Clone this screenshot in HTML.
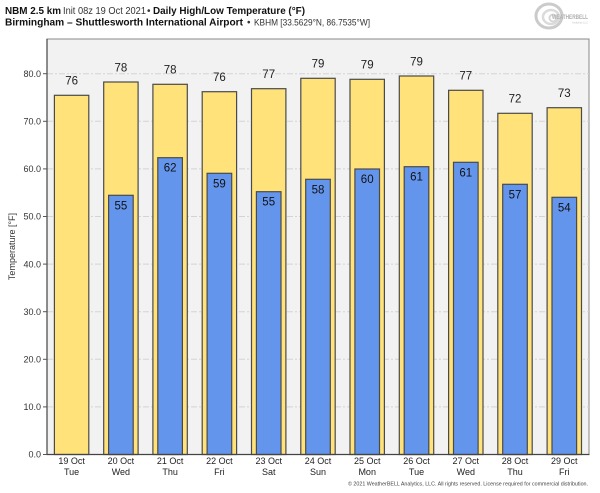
<!DOCTYPE html>
<html><head><meta charset="utf-8"><style>
html,body{margin:0;padding:0;background:#fff;}
svg{display:block;}
text{font-family:"Liberation Sans","DejaVu Sans",sans-serif;}
</style></head><body>
<svg width="600" height="493" viewBox="0 0 600 493" xmlns="http://www.w3.org/2000/svg">
<rect width="600" height="493" fill="#fff"/>
<!-- Title -->
<text x="5" y="14" font-size="10" font-weight="bold" fill="#111" textLength="56" lengthAdjust="spacingAndGlyphs">NBM 2.5 km</text>
<text x="63" y="14" font-size="10" fill="#333" textLength="83" lengthAdjust="spacingAndGlyphs">Init 08z 19 Oct 2021</text>
<text x="147" y="14" font-size="10" fill="#333">•</text>
<text x="153" y="14" font-size="10" font-weight="bold" fill="#111" textLength="152" lengthAdjust="spacingAndGlyphs">Daily High/Low Temperature (°F)</text>
<text x="5" y="25.7" font-size="10" font-weight="bold" fill="#111" textLength="238" lengthAdjust="spacingAndGlyphs">Birmingham – Shuttlesworth International Airport</text>
<text x="247" y="25.7" font-size="10" fill="#333">•</text>
<text x="254" y="25.7" font-size="9.5" fill="#333" textLength="116" lengthAdjust="spacingAndGlyphs">KBHM [33.5629°N, 86.7535°W]</text>
<!-- Logo -->
<g opacity="0.6">
<ellipse cx="549" cy="16" rx="13" ry="12" fill="none" stroke="#aaa" stroke-width="3"/>
<ellipse cx="551" cy="17" rx="8" ry="7" fill="none" stroke="#c4c4c4" stroke-width="2.5"/>
<ellipse cx="553" cy="18" rx="3.5" ry="3.5" fill="none" stroke="#bbb" stroke-width="2"/>
<text x="552" y="19" font-size="6.5" font-weight="bold" fill="#777" font-family="Liberation Serif,serif" textLength="36" lengthAdjust="spacingAndGlyphs">WEATHERBELL</text>
<text x="572" y="23.5" font-size="2.5" fill="#999" textLength="16" lengthAdjust="spacingAndGlyphs">Analytics LLC</text>
</g>
<!-- Plot area -->
<rect x="47" y="39" width="542" height="415.5" fill="#f2f2f2" stroke="#888" stroke-width="1"/>
<g stroke="#d4d4d4" stroke-width="1" stroke-dasharray="6,2,2,2">
<line x1="47" x2="589" y1="406.9" y2="406.9"/>
<line x1="47" x2="589" y1="359.3" y2="359.3"/>
<line x1="47" x2="589" y1="311.7" y2="311.7"/>
<line x1="47" x2="589" y1="264.1" y2="264.1"/>
<line x1="47" x2="589" y1="216.5" y2="216.5"/>
<line x1="47" x2="589" y1="168.9" y2="168.9"/>
<line x1="47" x2="589" y1="121.3" y2="121.3"/>
<line x1="47" x2="589" y1="73.7" y2="73.7"/>
</g>
<!-- Bars -->
<g stroke="#4a4a4a" stroke-width="1.2">
<rect x="54.4" y="95.3" width="34.4" height="359.2" fill="#ffe27a"/>
<rect x="103.7" y="82" width="34.4" height="372.5" fill="#ffe27a"/>
<rect x="152.9" y="84.3" width="34.4" height="370.2" fill="#ffe27a"/>
<rect x="202.2" y="91.7" width="34.4" height="362.8" fill="#ffe27a"/>
<rect x="251.5" y="88.7" width="34.4" height="365.8" fill="#ffe27a"/>
<rect x="300.8" y="78.3" width="34.4" height="376.2" fill="#ffe27a"/>
<rect x="350.0" y="79.3" width="34.4" height="375.2" fill="#ffe27a"/>
<rect x="399.3" y="76" width="34.4" height="378.5" fill="#ffe27a"/>
<rect x="448.6" y="90.3" width="34.4" height="364.2" fill="#ffe27a"/>
<rect x="497.8" y="113.3" width="34.4" height="341.2" fill="#ffe27a"/>
<rect x="547.1" y="107.7" width="34.4" height="346.8" fill="#ffe27a"/>

<rect x="108.6" y="195.3" width="24.6" height="259.2" fill="#6495ed"/>
<rect x="157.8" y="157.7" width="24.6" height="296.8" fill="#6495ed"/>
<rect x="207.1" y="173.3" width="24.6" height="281.2" fill="#6495ed"/>
<rect x="256.4" y="191.7" width="24.6" height="262.8" fill="#6495ed"/>
<rect x="305.7" y="179.3" width="24.6" height="275.2" fill="#6495ed"/>
<rect x="354.9" y="169" width="24.6" height="285.5" fill="#6495ed"/>
<rect x="404.2" y="166.7" width="24.6" height="287.8" fill="#6495ed"/>
<rect x="453.5" y="162.3" width="24.6" height="292.2" fill="#6495ed"/>
<rect x="502.7" y="184.3" width="24.6" height="270.2" fill="#6495ed"/>
<rect x="552.0" y="197.3" width="24.6" height="257.2" fill="#6495ed"/>
</g>
<!-- High labels -->
<g font-size="11.5" fill="#222" text-anchor="middle">
<text x="71.6" y="84.7">76</text>
<text x="120.9" y="71.4">78</text>
<text x="170.1" y="73.7">78</text>
<text x="219.4" y="81.1">76</text>
<text x="268.7" y="78.1">77</text>
<text x="318.0" y="67.7">79</text>
<text x="367.2" y="68.7">79</text>
<text x="416.5" y="65.4">79</text>
<text x="465.8" y="79.7">77</text>
<text x="515.0" y="102.7">72</text>
<text x="564.3" y="97.1">73</text>
</g>
<!-- Low labels -->
<g font-size="11.5" fill="#111" text-anchor="middle">
<text x="120.9" y="209.3">55</text>
<text x="170.1" y="171.7">62</text>
<text x="219.4" y="187.3">59</text>
<text x="268.7" y="205.7">55</text>
<text x="318.0" y="193.3">58</text>
<text x="367.2" y="183">60</text>
<text x="416.5" y="180.7">61</text>
<text x="465.8" y="176.3">61</text>
<text x="515.0" y="198.3">57</text>
<text x="564.3" y="211.3">54</text>
</g>
<!-- Axes spines -->
<line x1="47" y1="39" x2="47" y2="455" stroke="#444" stroke-width="1.2"/>
<line x1="46.5" y1="454.5" x2="589.5" y2="454.5" stroke="#444" stroke-width="1.2"/>
<!-- Y ticks -->
<g stroke="#555" stroke-width="1">
<line x1="43" x2="47" y1="454.5" y2="454.5"/>
<line x1="43" x2="47" y1="406.9" y2="406.9"/>
<line x1="43" x2="47" y1="359.3" y2="359.3"/>
<line x1="43" x2="47" y1="311.7" y2="311.7"/>
<line x1="43" x2="47" y1="264.1" y2="264.1"/>
<line x1="43" x2="47" y1="216.5" y2="216.5"/>
<line x1="43" x2="47" y1="168.9" y2="168.9"/>
<line x1="43" x2="47" y1="121.3" y2="121.3"/>
<line x1="43" x2="47" y1="73.7" y2="73.7"/>
</g>
<g font-size="9" fill="#333" text-anchor="end">
<text x="41" y="457.7">0.0</text>
<text x="41" y="410.1">10.0</text>
<text x="41" y="362.5">20.0</text>
<text x="41" y="314.9">30.0</text>
<text x="41" y="267.3">40.0</text>
<text x="41" y="219.7">50.0</text>
<text x="41" y="172.1">60.0</text>
<text x="41" y="124.5">70.0</text>
<text x="41" y="76.9">80.0</text>
</g>
<text transform="translate(15,246.5) rotate(-90)" font-size="9" fill="#333" text-anchor="middle">Temperature [°F]</text>
<!-- X labels -->
<g font-size="9" fill="#222" text-anchor="middle">
<text x="71.6" y="464">19 Oct</text><text x="71.6" y="475">Tue</text>
<text x="120.9" y="464">20 Oct</text><text x="120.9" y="475">Wed</text>
<text x="170.1" y="464">21 Oct</text><text x="170.1" y="475">Thu</text>
<text x="219.4" y="464">22 Oct</text><text x="219.4" y="475">Fri</text>
<text x="268.7" y="464">23 Oct</text><text x="268.7" y="475">Sat</text>
<text x="318.0" y="464">24 Oct</text><text x="318.0" y="475">Sun</text>
<text x="367.2" y="464">25 Oct</text><text x="367.2" y="475">Mon</text>
<text x="416.5" y="464">26 Oct</text><text x="416.5" y="475">Tue</text>
<text x="465.8" y="464">27 Oct</text><text x="465.8" y="475">Wed</text>
<text x="515.0" y="464">28 Oct</text><text x="515.0" y="475">Thu</text>
<text x="564.3" y="464">29 Oct</text><text x="564.3" y="475">Fri</text>
</g>
<text x="348" y="485.5" font-size="5.5" fill="#444" textLength="240" lengthAdjust="spacingAndGlyphs">© 2021 WeatherBELL Analytics, LLC. All rights reserved. License required for commercial distribution.</text>
</svg>
</body></html>
